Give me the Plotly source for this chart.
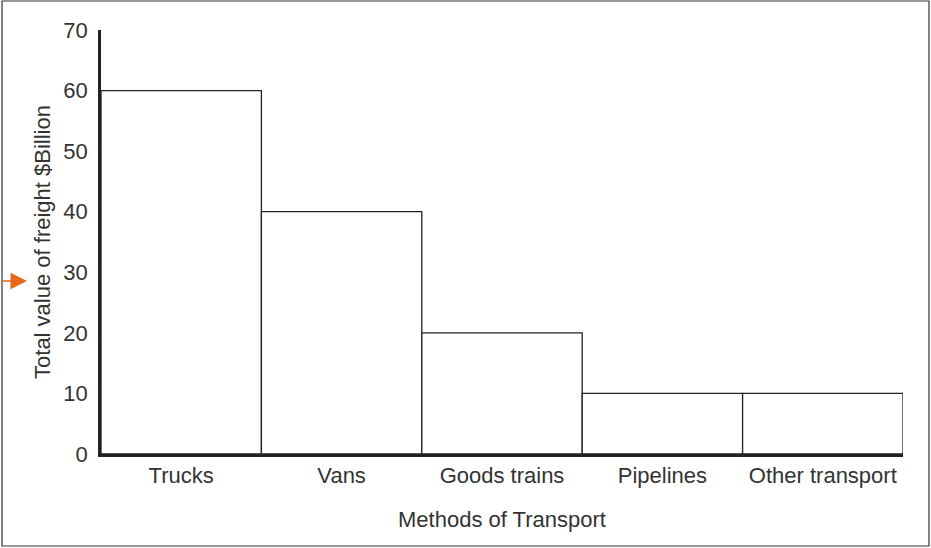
import plotly.graph_objects as go

categories = ["Trucks", "Vans", "Goods trains", "Pipelines", "Other transport"]
values = [60, 40, 20, 10, 10]
y_ticks = [0, 10, 20, 30, 40, 50, 60, 70]

W, H = 931, 548
L, R, T, B = 101, 28, 30, 94
pw, ph = W - L - R, H - T - B

fig = go.Figure(go.Bar(
    x=categories, y=values, width=1,
    marker=dict(color="white", line=dict(color="#222222", width=1.3)),
    hoverinfo="skip",
))

font = dict(family="Liberation Sans, Arial, sans-serif", size=22, color="#333333")
title_font = dict(family="Liberation Sans, Arial, sans-serif", size=22, color="#333333")

fig.update_layout(
    width=W, height=H,
    margin=dict(l=L, r=R, t=T, b=B),
    paper_bgcolor="white", plot_bgcolor="white",
    font=font, showlegend=False,
    xaxis=dict(
        range=[-0.5, 4.5], showgrid=False, zeroline=False,
        showline=True, linecolor="#222222", linewidth=2.5,
        ticks="", ticklabelstandoff=0, tickfont=font,
        title=dict(text="Methods of Transport", standoff=25, font=title_font),
    ),
    yaxis=dict(
        range=[0, 70], tickvals=y_ticks, showgrid=False, zeroline=False,
        showline=True, linecolor="#222222", linewidth=2.5,
        ticks="", ticklabelstandoff=6, tickfont=font,
        title=dict(text="Total value of freight $Billion", standoff=7, font=title_font),
    ),
    shapes=[dict(
        type="rect", xref="paper", yref="paper",
        xsizemode="pixel", ysizemode="pixel", xanchor=0, yanchor=0,
        x0=2 - L, x1=929 - L, y0=-(546 - (T + ph)), y1=(T + ph) - 1,
        line=dict(color="#333333", width=1.2), fillcolor="rgba(0,0,0,0)", layer="above",
    )],
    annotations=[dict(
        xref="paper", yref="paper",
        x=(27 - L) / pw, y=(T + ph - 281) / ph,
        ax=-28, ay=0, text="", showarrow=True,
        arrowhead=2, arrowsize=2.2, arrowwidth=1.5, arrowcolor="#E8661E",
    )],
)

fig.write_html(
    "out.html",
    config={"displayModeBar": False},
    post_script="document.body.style.margin='0';document.body.style.padding='0';",
)
